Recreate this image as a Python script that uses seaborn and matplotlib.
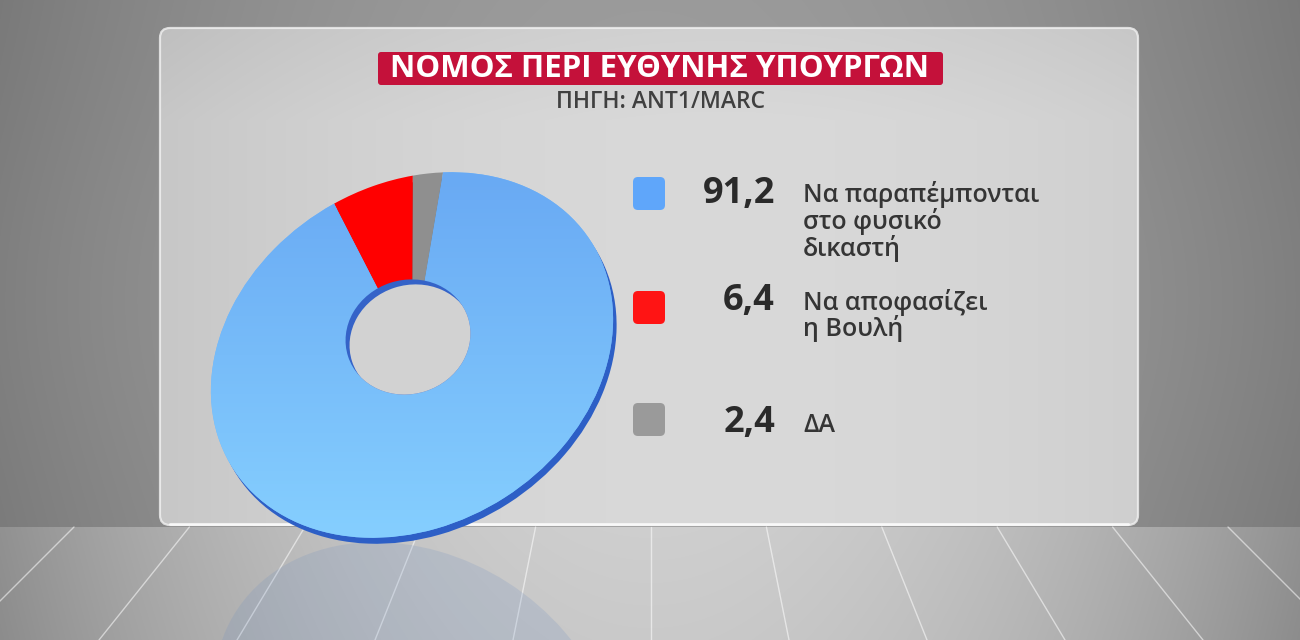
import numpy as np
import matplotlib
matplotlib.use("Agg")
import matplotlib.pyplot as plt
import seaborn as sns
from matplotlib.patches import FancyBboxPatch, Ellipse, Rectangle
from matplotlib.transforms import Affine2D

# ---------------- data ----------------
title = "ΝΟΜΟΣ ΠΕΡΙ ΕΥΘΥΝΗΣ ΥΠΟΥΡΓΩΝ"
subtitle = "ΠΗΓΗ: ANT1/MARC"
categories = ["Να παραπέμπονται\nστο φυσικό\nδικαστή", "Να αποφασίζει\nη Βουλή", "ΔΑ"]
values = [91.2, 6.4, 2.4]
value_labels = ["91,2", "6,4", "2,4"]

# ---------------- style ----------------
sns.set_theme(style="white")
plt.rcParams['font.family'] = ['Open Sans', 'DejaVu Sans']

pie_colors = sns.color_palette(["#74b8fa", "#ff0000", "#8f8f8f"])
side_colors = sns.color_palette(["#2d5fc6", "#b00000", "#5a5a5a"])
legend_colors = ["#5fa6fa", "#ff1414", "#9a9a9a"]

W, H = 1300, 640
fig = plt.figure(figsize=(13, 6.4), dpi=100)
ax = fig.add_axes([0, 0, 1, 1])

# ---------------- backdrop ----------------
yy, xx = np.mgrid[0:H, 0:W].astype(float)
rx = (xx - 650) / 650.0
wall = 0.60 - 0.13 * rx ** 2 + 0.03 * np.exp(-((yy - 300) / 250) ** 2)
t = np.clip((yy - 525) / 115.0, 0, 1)
floor = 0.81 - 0.02 * t - 0.24 * rx ** 2
v = np.where(yy < 527, wall, floor)
bg = np.dstack([v, v, v])
ax.imshow(np.clip(bg, 0, 1), extent=(0, W, H, 0), zorder=0, interpolation="bilinear")

# floor perspective lines
vpx, vpy = 651, -50
for k in range(-6, 7):
    x530 = vpx + k * 116
    slope = (x530 - vpx) / (530 - vpy)
    ax.plot([vpx + slope * (527 - vpy), vpx + slope * (H - vpy)], [527, H],
            color="white", lw=1.0, alpha=0.55, zorder=1)

# panel
panel = FancyBboxPatch((160, 28), 978, 497, boxstyle="round,pad=0,rounding_size=10",
                       facecolor="none", edgecolor="#f2f2f2", lw=1.6, alpha=0.8, zorder=3)
ax.add_patch(panel)
pv = 0.85 - 0.07 * ((xx - 720) / 560.0) ** 2 - 0.04 * np.clip((120 - yy) / 120, 0, 1)
pimg = ax.imshow(np.dstack([pv, pv, pv]), extent=(0, W, H, 0), zorder=2, interpolation="bilinear")
clip_panel = FancyBboxPatch((160, 28), 978, 497, boxstyle="round,pad=0,rounding_size=10",
                            transform=ax.transData, facecolor="none")
pimg.set_clip_path(clip_panel)
ax.plot([170, 1128], [524, 524], color="white", lw=2.2, alpha=0.7, zorder=3)

# ---------------- pie (tilted disc) ----------------
cx, cy = 412, 355
A, B, rot = 212, 170, 32
start = 54.5


def disc_transform(dx=0.0, dy=0.0, mirror_y=None):
    tr = Affine2D().scale(A, B).rotate_deg(rot).scale(1, -1).translate(cx + dx, cy + dy)
    if mirror_y is not None:
        tr = tr + Affine2D().scale(1, -1).translate(0, 2 * mirror_y)
    return tr + ax.transData


# reflection on the floor
ym = 543
refl_colors = sns.color_palette(["#6f8fc0", "#c05050", "#8f8f8f"])
refl, _ = ax.pie(values, colors=refl_colors, startangle=start, counterclock=False,
                 wedgeprops=dict(linewidth=0, alpha=0.2))
floor_clip = Rectangle((0, ym), W, H - ym, transform=ax.transData)
for w in refl:
    w.set_transform(disc_transform(3, 6, mirror_y=ym))
    w.set_zorder(1.5)
    w.set_clip_path(floor_clip)

# side thickness
side, _ = ax.pie(values, colors=side_colors, startangle=start, counterclock=False,
                 wedgeprops=dict(linewidth=0))
for w in side:
    w.set_transform(disc_transform(3.5, 6))
    w.set_zorder(5)

# top face
top, _ = ax.pie(values, colors=pie_colors, startangle=start, counterclock=False,
                wedgeprops=dict(linewidth=0))
for w in top:
    w.set_transform(disc_transform())
    w.set_zorder(6)

# gradient on the large slice
gy = np.linspace(0, 1, 200)[:, None] * np.ones((1, 200))
c0 = np.array([0x68, 0xa8, 0xf3]) / 255
c1 = np.array([0x86, 0xd0, 0xff]) / 255
grad = c0[None, None, :] * (1 - gy[..., None]) + c1[None, None, :] * gy[..., None]
gim = ax.imshow(grad, extent=(190, 640, 550, 160), zorder=6.5, interpolation="bilinear")
gim.set_clip_path(top[0])

# hole
hx, hy = 408, 337
hw, hh = 126, 114
hrot = 18
wall_e = Ellipse((hx, hy), hw, hh, angle=-hrot, facecolor="#3563c8", edgecolor="none", zorder=7)
ax.add_patch(wall_e)
hole = Ellipse((hx + 4, hy + 5), hw, hh, angle=-hrot, facecolor="#d2d2d2", edgecolor="none", zorder=7.1)
ax.add_patch(hole)
hole.set_clip_path(wall_e)

# ---------------- title ----------------
ax.add_patch(FancyBboxPatch((378, 52), 565, 33, boxstyle="round,pad=0,rounding_size=3",
                            facecolor="#c4113a", edgecolor="none", zorder=8))
ax.text(660, 69, title, color="white", fontsize=22.5, fontweight="bold",
        ha="center", va="center", zorder=9)
ax.text(660, 102, subtitle, color="#404040", fontsize=16.5, fontweight="semibold",
        ha="center", va="center", zorder=9)

# ---------------- legend ----------------
sq_tops = [177, 291, 403]
baselines = [203, 310, 432]
pitch = 26.5
for i in range(len(values)):
    ax.add_patch(FancyBboxPatch((633, sq_tops[i]), 32, 33,
                                boxstyle="round,pad=0,rounding_size=5",
                                facecolor=legend_colors[i], edgecolor="none", zorder=8))
    ax.text(775, baselines[i], value_labels[i], color="#2a2a2a", fontsize=26,
            fontweight="bold", ha="right", va="baseline", zorder=9)
    n_lines = categories[i].count("\n") + 1
    ax.text(803, baselines[i] + (n_lines - 1) * pitch, categories[i], color="#353535",
            fontsize=18, fontweight="semibold", ha="left", va="baseline",
            linespacing=0.99, zorder=9)

ax.set_xlim(0, W)
ax.set_ylim(H, 0)
ax.set_aspect("auto")
ax.axis("off")
fig.savefig("out.png", dpi=100)
